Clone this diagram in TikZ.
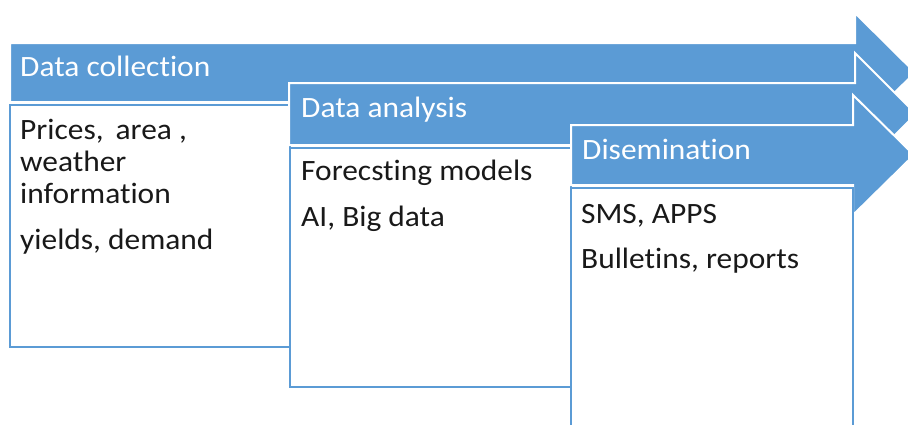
\documentclass[tikz,border=0pt]{standalone}
\usepackage{fontspec}
\setmainfont[Ligatures={NoCommon},FakeStretch=1.065]{Carlito}
\definecolor{acc}{HTML}{5B9BD5}
\begin{document}
\begin{tikzpicture}[x=1pt,y={(0pt,-1pt)},
  arrowshape/.style={fill=acc,draw=white,line width=2pt,line join=miter},
  panel/.style={draw=acc,fill=white,line width=2pt},
  head/.style={anchor=base west,inner sep=0pt,text=white,font=\fontsize{29.5}{34}\selectfont},
  body/.style={anchor=base west,inner sep=0pt,text=black!90,font=\fontsize{29.5}{34}\selectfont}]
\useasboundingbox (0,0) rectangle (908,424);
\clip (0,0) rectangle (908,424);
% arrow 1
\draw[arrowshape] (10,43) -- (855,43) -- (855,13) -- (915,72.5) -- (855,132) -- (855,102) -- (10,102) -- cycle;
\node[head] (h1) at (20,76) {Data collection};
\draw[panel] (10,105) rectangle (290,347);
\node[body] (b1a) at (20,139) {Prices,\, area ,};
\node[body] (b1b) at (20,171) {weather};
\node[body] (b1c) at (20,203) {information};
\node[body] (b1d) at (20,249) {yields, demand};
% arrow 2
\draw[arrowshape] (289,83) -- (855,83) -- (855,53) -- (916,114) -- (855,175) -- (855,145) -- (289,145) -- cycle;
\node[head] (h2) at (301,117) {Data analysis};
\draw[panel] (290,148) rectangle (571,387);
\node[body] (b2a) at (301,180) {Forecsting models};
\node[body] (b2b) at (301,226) {AI, Big data};
% arrow 3
\draw[arrowshape] (571,125) -- (853,125) -- (853,95) -- (914,155) -- (853,215) -- (853,185) -- (571,185) -- cycle;
\node[head] (h3) at (582,159) {Disemination};
\draw[panel] (571,188) rectangle (853,440);
\node[body] (b3a) at (581,223) {SMS, APPS};
\node[body] (b3b) at (581,268) {Bulletins, reports};
\end{tikzpicture}
\end{document}
